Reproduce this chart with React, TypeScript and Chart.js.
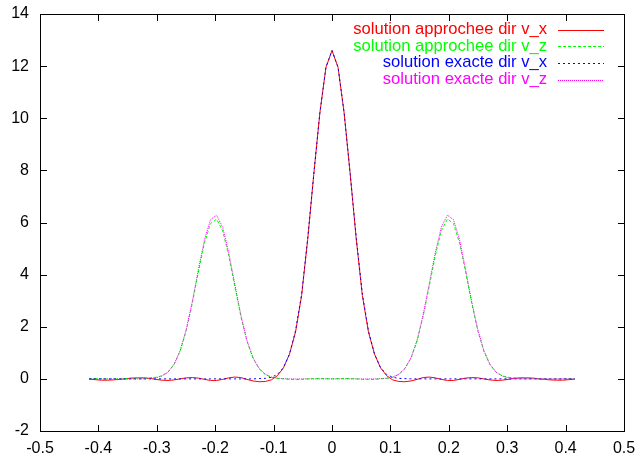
import React, { useEffect, useRef } from "react";
import { Chart, registerables } from "chart.js";

Chart.register(...registerables);

const xValues = [
  -0.416, -0.4056, -0.3952, -0.3848, -0.3744, -0.364, -0.3536, -0.3432, -0.3328, -0.3224,
  -0.312, -0.3016, -0.2912, -0.2808, -0.2704, -0.26, -0.2496, -0.2392, -0.2288, -0.2184,
  -0.208, -0.1976, -0.1872, -0.1768, -0.1664, -0.156, -0.1456, -0.1352, -0.1248, -0.1144,
  -0.104, -0.0936, -0.0832, -0.0728, -0.0624, -0.052, -0.0416, -0.0312, -0.0208, -0.0104,
  0,
  0.0104, 0.0208, 0.0312, 0.0416, 0.052, 0.0624, 0.0728, 0.0832, 0.0936, 0.104,
  0.1144, 0.1248, 0.1352, 0.1456, 0.156, 0.1664, 0.1768, 0.1872, 0.1976, 0.208,
  0.2184, 0.2288, 0.2392, 0.2496, 0.26, 0.2704, 0.2808, 0.2912, 0.3016, 0.312,
  0.3224, 0.3328, 0.3432, 0.3536, 0.364, 0.3744, 0.3848, 0.3952, 0.4056, 0.416,
];

const approxVx = [
  -0.01, -0.03, -0.05, -0.05, -0.04, -0.02, 0.0, 0.03, 0.04, 0.04,
  0.02, -0.02, -0.05, -0.06, -0.04, 0.0, 0.04, 0.05, 0.03, -0.02,
  -0.06, -0.06, -0.02, 0.04, 0.07, 0.05, -0.02, -0.08, -0.11, -0.1,
  -0.04, 0.12, 0.42, 0.95, 1.8, 3.2, 5.35, 7.85, 10.2, 11.95,
  12.6,
  11.95, 10.2, 7.85, 5.35, 3.2, 1.8, 0.95, 0.42, 0.12, -0.04,
  -0.1, -0.11, -0.08, -0.02, 0.05, 0.07, 0.04, -0.02, -0.06, -0.06,
  -0.02, 0.03, 0.05, 0.04, 0.0, -0.04, -0.06, -0.05, -0.02, 0.02,
  0.04, 0.04, 0.03, 0.0, -0.02, -0.04, -0.05, -0.05, -0.03, -0.01,
];

const approxVz = [
  0.01, 0.01, 0.0, -0.01, -0.01, 0.0, 0.01, 0.03, 0.04, 0.03,
  0.04, 0.06, 0.12, 0.26, 0.55, 1.06, 1.85, 2.9, 4.1, 5.21,
  5.96, 6.13, 5.68, 4.72, 3.54, 2.39, 1.44, 0.79, 0.39, 0.17,
  0.06, 0.02, 0.0, -0.02, -0.03, -0.02, 0.0, 0.01, 0.02, 0.01,
  0,
  0.01, 0.02, 0.01, 0.0, -0.02, -0.03, -0.02, 0.0, 0.02, 0.06,
  0.17, 0.39, 0.79, 1.44, 2.39, 3.54, 4.72, 5.68, 6.13, 5.96,
  5.21, 4.1, 2.9, 1.85, 1.06, 0.55, 0.26, 0.12, 0.06, 0.04,
  0.03, 0.04, 0.03, 0.01, 0.0, -0.01, -0.01, 0.0, 0.01, 0.01,
];

const exactVx = [
  0, 0, 0, 0, 0, 0, 0, 0, 0, 0,
  0, 0, 0, 0, 0, 0, 0, 0, 0, 0,
  0, 0, 0, 0, 0, 0, 0, 0, 0.01, 0.02,
  0.06, 0.17, 0.43, 0.95, 1.85, 3.25, 5.4, 7.85, 10.2, 11.95,
  12.6,
  11.95, 10.2, 7.85, 5.4, 3.25, 1.85, 0.95, 0.43, 0.17, 0.06,
  0.02, 0.01, 0, 0, 0, 0, 0, 0, 0, 0,
  0, 0, 0, 0, 0, 0, 0, 0, 0, 0,
  0, 0, 0, 0, 0, 0, 0, 0, 0, 0,
];

const exactVz = [
  0, 0, 0, 0, 0, 0, 0, 0, 0, 0.004,
  0.014, 0.04, 0.11, 0.26, 0.56, 1.09, 1.9, 2.97, 4.2, 5.34,
  6.11, 6.28, 5.82, 4.84, 3.63, 2.45, 1.48, 0.81, 0.4, 0.18,
  0.07, 0.025, 0.01, 0, 0, 0, 0, 0, 0, 0,
  0,
  0, 0, 0, 0, 0, 0, 0, 0.01, 0.025, 0.07,
  0.18, 0.4, 0.81, 1.48, 2.45, 3.63, 4.84, 5.82, 6.28, 6.11,
  5.34, 4.2, 2.97, 1.9, 1.09, 0.56, 0.26, 0.11, 0.04, 0.014,
  0.004, 0, 0, 0, 0, 0, 0, 0, 0, 0,
];

const seriesLabels = [
  "solution approchee dir v_x",
  "solution approchee dir v_z",
  "solution exacte dir v_x",
  "solution exacte dir v_z",
];
const seriesColors = ["#ff0000", "#00ff00", "#0000ff", "#ff00ff"];
const seriesDashes = [[], [3, 2], [2, 3], [1, 1]];

const xTicks = [-0.5, -0.4, -0.3, -0.2, -0.1, 0, 0.1, 0.2, 0.3, 0.4, 0.5];
const xTickLabels = ["-0.5", "-0.4", "-0.3", "-0.2", "-0.1", "0", "0.1", "0.2", "0.3", "0.4", "0.5"];
const yTicks = [-2, 0, 2, 4, 6, 8, 10, 12, 14];
const yTickLabels = ["-2", "0", "2", "4", "6", "8", "10", "12", "14"];

const FONT = "'Liberation Sans', Arial, Helvetica, sans-serif";

const framePlugin = {
  id: "gnuplotFrame",
  afterDraw(chart: any) {
    const ctx = chart.ctx;
    const xs = chart.scales.x;
    const ys = chart.scales.y;
    const L = Math.round(xs.left);
    const R = Math.round(xs.right);
    const T = Math.round(ys.top);
    const B = Math.round(ys.bottom);
    ctx.save();
    ctx.fillStyle = "#000000";
    ctx.fillRect(L, T, R - L + 1, 1);
    ctx.fillRect(L, B, R - L + 1, 1);
    ctx.fillRect(L, T, 1, B - T + 1);
    ctx.fillRect(R, T, 1, B - T + 1);
    const tl = 6;
    xTicks.forEach((v) => {
      const px = Math.round(xs.getPixelForValue(v));
      ctx.fillRect(px, B - tl, 1, tl);
      ctx.fillRect(px, T + 1, 1, tl);
    });
    yTicks.forEach((v) => {
      const py = Math.round(ys.getPixelForValue(v));
      ctx.fillRect(L + 1, py, tl, 1);
      ctx.fillRect(R - tl, py, tl, 1);
    });
    ctx.restore();

    ctx.save();
    ctx.font = `16.6px ${FONT}`;
    ctx.textAlign = "right";
    ctx.textBaseline = "middle";
    ctx.lineWidth = 1;
    const rowY = [29.5, 46.2, 62.9, 79.6];
    seriesLabels.forEach((lab, i) => {
      const y = rowY[i];
      ctx.fillStyle = seriesColors[i];
      ctx.fillText(lab, 547, y);
      ctx.strokeStyle = seriesColors[i];
      ctx.setLineDash(seriesDashes[i]);
      ctx.beginPath();
      ctx.moveTo(558, Math.round(y) + 0.5);
      ctx.lineTo(604, Math.round(y) + 0.5);
      ctx.stroke();
    });
    ctx.restore();
  },
};

export default function App() {
  const ref = useRef<HTMLCanvasElement | null>(null);
  useEffect(() => {
    if (!ref.current) return;
    const seriesValues = [approxVx, approxVz, exactVx, exactVz];
    const chart = new Chart(ref.current, {
      type: "line",
      data: {
        datasets: seriesValues.map((vals, i) => ({
          label: seriesLabels[i],
          data: xValues.map((x, j) => ({ x, y: vals[j] })),
          borderColor: seriesColors[i],
          borderWidth: 1,
          borderDash: seriesDashes[i],
          pointRadius: 0,
          tension: 0,
          fill: false,
          order: 3 - i,
        })),
      },
      options: {
        animation: false,
        responsive: false,
        devicePixelRatio: 1,
        layout: { padding: { left: 0, top: 14, right: 12, bottom: 0 } },
        plugins: {
          legend: { display: false },
          tooltip: { enabled: false },
        },
        scales: {
          x: {
            type: "linear",
            min: -0.5,
            max: 0.5,
            grid: { display: false, drawTicks: false },
            border: { display: true, color: "#000000", width: 1 },
            afterBuildTicks: (s: any) => {
              s.ticks = xTicks.map((v) => ({ value: v }));
            },
            afterFit: (s: any) => {
              s.height = 29;
              s.paddingLeft = 0;
              s.paddingRight = 0;
            },
            ticks: {
              autoSkip: false,
              maxRotation: 0,
              padding: 8,
              color: "#000000",
              font: { family: FONT, size: 16 },
              callback: (_v: any, i: number) => xTickLabels[i],
            },
          },
          y: {
            type: "linear",
            min: -2,
            max: 14,
            grid: { display: false, drawTicks: false },
            border: { display: true, color: "#000000", width: 1 },
            afterBuildTicks: (s: any) => {
              s.ticks = yTicks.map((v) => ({ value: v }));
            },
            afterFit: (s: any) => {
              s.width = 40;
              s.paddingTop = 0;
              s.paddingBottom = 0;
            },
            ticks: {
              autoSkip: false,
              padding: 11,
              color: "#000000",
              font: { family: FONT, size: 16 },
              callback: (_v: any, i: number) => yTickLabels[i],
            },
          },
        },
      },
      plugins: [framePlugin],
    });
    return () => chart.destroy();
  }, []);
  return (
    <div style={{ position: "fixed", left: 0, top: 0, width: 636, height: 460 }}>
      <canvas ref={ref} width={636} height={460} style={{ width: 636, height: 460, display: "block" }} />
    </div>
  );
}
